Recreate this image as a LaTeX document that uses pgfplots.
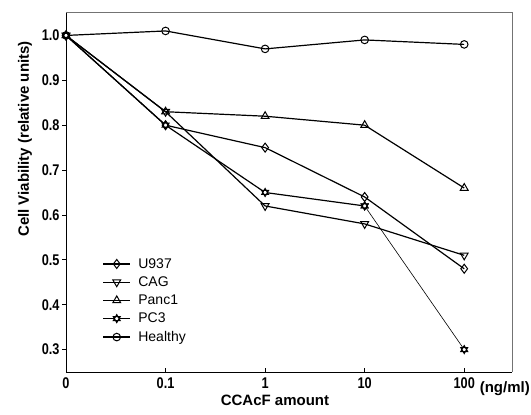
\documentclass[border=0pt]{standalone}
\usepackage{pgfplots}
\pgfplotsset{compat=1.18}
\usepackage{fontspec}
\setmainfont{Liberation Sans}
\newfontfamily\narrowsans[FakeStretch=0.82]{Liberation Sans}
\pgfdeclareplotmark{hexstar}{%
  \pgfpathmoveto{\pgfqpointpolar{90}{\pgfplotmarksize}}%
  \pgfpathlineto{\pgfqpointpolar{210}{\pgfplotmarksize}}%
  \pgfpathlineto{\pgfqpointpolar{330}{\pgfplotmarksize}}%
  \pgfpathclose
  \pgfpathmoveto{\pgfqpointpolar{270}{\pgfplotmarksize}}%
  \pgfpathlineto{\pgfqpointpolar{30}{\pgfplotmarksize}}%
  \pgfpathlineto{\pgfqpointpolar{150}{\pgfplotmarksize}}%
  \pgfpathclose
  \pgfusepathqfillstroke}
\begin{document}
\begin{tikzpicture}
\begin{axis}[name=ax, scale only axis, width=446pt, height=359pt,
  xmin=0, xmax=4.48, ymin=0.25, ymax=1.05,
  axis lines=left, axis line style={-, line width=1pt, black},
  xtick={0,1,2,3,4}, xticklabels={0,0.1,1,10,100},
  ytick={0.3,0.4,0.5,0.6,0.7,0.8,0.9,1.0},
  yticklabel style={xshift=-3pt, /pgf/number format/.cd, fixed, fixed zerofill, precision=1},
  /pgf/number format/assume math mode=true,
  tick label style={font=\narrowsans\fontsize{15.5}{17}\selectfont\bfseries},
  xticklabel style={yshift=-2pt},
  tick align=inside, major tick length=4pt,
  y tick style={xshift=-4pt, line width=0.8pt, black},
  x tick style={line width=0.8pt, black},
  ylabel={Cell Viability (relative units)},
  ylabel style={font=\fontsize{15}{17}\selectfont\bfseries, at={(ticklabel cs:0.649)}},
  ylabel shift=3pt,
  xlabel={CCAcF amount},
  xlabel style={font=\fontsize{15}{17}\selectfont\bfseries, xshift=-14pt},
  legend style={at={(rel axis cs:0.075,0.327)}, anchor=north west, draw=none, fill=none,
    font=\fontsize{14}{16}\selectfont, row sep=4pt, nodes={inner sep=1.5pt},
    /tikz/every odd column/.append style={column sep=6pt}},
  legend cell align=left,
  legend image code/.code={\draw[mark repeat=2,mark phase=2] plot coordinates {(0pt,0pt)(13.5pt,0pt)(27pt,0pt)};},
  clip=false,
]
\addplot[black, line width=1.2pt, mark=diamond, mark size=4.5pt, mark options={fill=white, line width=1pt}]
  coordinates {(0,1.0)(1,0.80)(2,0.75)(3,0.64)(4,0.48)};
\addlegendentry{U937}
\addplot[black, line width=1.2pt, mark=triangle, mark size=4.5pt, mark options={rotate=180, fill=white, line width=1pt}]
  coordinates {(0,1.0)(1,0.83)(2,0.62)(3,0.58)(4,0.51)};
\addlegendentry{CAG}
\addplot[black, line width=1.2pt, mark=triangle, mark size=4.5pt, mark options={fill=white, line width=1pt}]
  coordinates {(0,1.0)(1,0.83)(2,0.82)(3,0.80)(4,0.66)};
\addlegendentry{Panc1}
\addplot[black, line width=1.2pt, mark=hexstar, mark size=4pt, mark options={fill=white, line width=1pt}]
  coordinates {(0,1.0)(1,0.80)(2,0.65)(3,0.62)};
\addlegendentry{PC3}
\addplot[black, line width=1.2pt, mark=o, mark size=3.8pt, mark options={fill=white, line width=1pt}]
  coordinates {(0,1.0)(1,1.01)(2,0.97)(3,0.99)(4,0.98)};
\addlegendentry{Healthy}
\addplot[black, line width=0.6pt, mark=hexstar, mark size=4pt, mark options={fill=white, line width=1pt}, forget plot]
  coordinates {(3,0.62)(4,0.30)};
\draw[black!55, line width=1pt] (rel axis cs:0,1) -- (rel axis cs:1,1) -- (rel axis cs:1,0);
\node[anchor=base east, inner sep=0pt, font=\fontsize{15}{17}\selectfont\bfseries] at (axis cs:4.48,0.25) [xshift=18pt, yshift=-20pt] {(ng/ml)};
\end{axis}
\path (ax.south west) ++(-66pt,-42pt);
\path (ax.north east) ++(19pt,13pt);
\end{tikzpicture}
\end{document}
